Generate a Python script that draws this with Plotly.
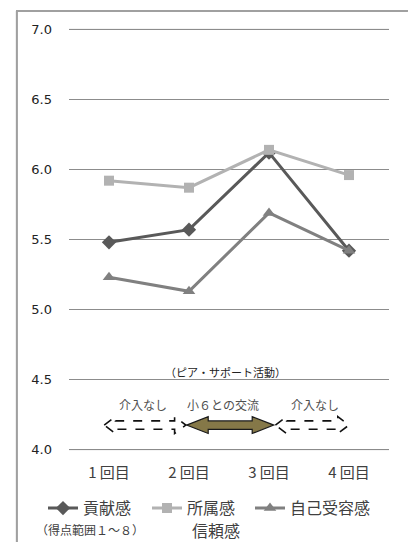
import plotly.graph_objects as go

categories = ["1 回目", "2 回目", "3 回目", "4 回目"]
koken = [5.48, 5.57, 6.12, 5.42]
shozoku = [5.92, 5.87, 6.14, 5.96]
jiko = [5.23, 5.13, 5.69, 5.42]
y_ticks = [4.0, 4.5, 5.0, 5.5, 6.0, 6.5, 7.0]

FONT = "Noto Sans CJK JP"
xs = list(range(len(categories)))

fig = go.Figure()
fig.add_trace(go.Scatter(x=xs, y=koken, name="貢献感", mode="lines+markers", legend="legend",
                         line=dict(color="#595959", width=3),
                         marker=dict(symbol="diamond", size=11, color="#595959")))
fig.add_trace(go.Scatter(x=xs, y=shozoku, name="所属感", mode="lines+markers", legend="legend2",
                         line=dict(color="#b2b2b2", width=3),
                         marker=dict(symbol="square", size=10, color="#b2b2b2")))
fig.add_trace(go.Scatter(x=xs, y=jiko, name="自己受容感", mode="lines+markers", legend="legend3",
                         line=dict(color="#808080", width=3),
                         marker=dict(symbol="triangle-up", size=11, color="#808080")))

shapes = []
# outer frame (extends past right/bottom edge)
shapes.append(dict(type="line", xref="paper", yref="paper", x0=-0.163, x1=1.059, y0=1.04, y1=1.04,
                   line=dict(color="#a0a0a0", width=2)))
shapes.append(dict(type="line", xref="paper", yref="paper", x0=-0.163, x1=-0.163, y0=-0.3, y1=1.04,
                   line=dict(color="#a0a0a0", width=2)))
# horizontal gridlines at range ends
for v in (4.0, 7.0):
    shapes.append(dict(type="line", xref="paper", yref="y", x0=0, x1=1, y0=v, y1=v,
                       line=dict(color="#8c8c8c", width=1)))

ya = 4.175
h1 = 0.03   # shaft half-height (data units)
h2 = 0.06   # head half-height
# solid olive double arrow
x0, x1 = 0.97, 2.06
hl = 0.27
shapes.append(dict(type="path", xref="x", yref="y",
                   path=(f"M {x0},{ya} L {x0+hl},{ya+h2} L {x0+hl},{ya+h1} L {x1-hl},{ya+h1} "
                         f"L {x1-hl},{ya+h2} L {x1},{ya} L {x1-hl},{ya-h2} L {x1-hl},{ya-h1} "
                         f"L {x0+hl},{ya-h1} L {x0+hl},{ya-h2} Z"),
                   fillcolor="#857848", line=dict(color="#1a1a1a", width=1.2)))
# dashed arrows
for (a, b) in [(-0.06, 0.96), (2.08, 3.0)]:
    hl2 = 0.14
    shapes.append(dict(type="path", xref="x", yref="y",
                       path=(f"M {a},{ya} L {a+hl2},{ya+h2} L {a+hl2},{ya+h1} L {b-hl2},{ya+h1} "
                             f"L {b-hl2},{ya+h2} L {b},{ya} L {b-hl2},{ya-h2} L {b-hl2},{ya-h1} "
                             f"L {a+hl2},{ya-h1} L {a+hl2},{ya-h2} Z"),
                       fillcolor="rgba(0,0,0,0)",
                       line=dict(color="#111111", width=1.6, dash="dash")))

annotations = [
    # frame box drawn as an annotation border (top/left edges visible)
    dict(x=(16 - 69) / 320, y=(451 - 10) / 423, xref="paper", yref="paper", text="",
         showarrow=False, xanchor="left", yanchor="top", width=420, height=560,
         bordercolor="#a0a0a0", borderwidth=1.5, borderpad=0),
    dict(x=1.46, y=4.555, xref="x", yref="y", text="（ピア・サポート活動）", showarrow=False,
         font=dict(size=11, color="#222222", family=FONT)),
    dict(x=0.43, y=4.32, xref="x", yref="y", text="介入なし", showarrow=False,
         font=dict(size=12, color="#505050", family=FONT)),
    dict(x=1.43, y=4.32, xref="x", yref="y", text="小６との交流", showarrow=False,
         font=dict(size=12, color="#505050", family=FONT)),
    dict(x=2.57, y=4.32, xref="x", yref="y", text="介入なし", showarrow=False,
         font=dict(size=12, color="#505050", family=FONT)),
    dict(x=(90 - 69) / 320, y=-0.186, xref="paper", yref="paper", text="（得点範囲１～８）", showarrow=False,
         font=dict(size=12, color="#404040", family=FONT), xanchor="center", yanchor="middle"),
    dict(x=(216 - 69) / 320, y=-0.186, xref="paper", yref="paper", text="信頼感", showarrow=False,
         font=dict(size=16, color="#404040", family=FONT), xanchor="center", yanchor="middle"),
]

leg_common = dict(orientation="h", y=-0.095, xanchor="left", yanchor="top",
                  font=dict(size=16, color="#404040", family=FONT),
                  itemwidth=30, bgcolor="rgba(0,0,0,0)")

fig.update_layout(
    width=408, height=542,
    margin=dict(l=69, r=19, t=28, b=91),
    paper_bgcolor="white", plot_bgcolor="white",
    showlegend=True,
    legend=dict(x=(43 - 69) / 320, **leg_common),
    legend2=dict(x=(147 - 69) / 320, **leg_common),
    legend3=dict(x=(250 - 69) / 320, **leg_common),
    xaxis=dict(range=[-0.5, 3.5], tickmode="array", tickvals=xs, ticktext=categories,
               showgrid=False, zeroline=False, showline=False, ticks="",
               ticklabelstandoff=11,
               tickfont=dict(size=15, color="#404040", family=FONT)),
    yaxis=dict(range=[3.99, 7.01], tickvals=y_ticks, ticktext=[f"{v:.1f}" for v in y_ticks],
               showgrid=True, gridcolor="#8c8c8c", gridwidth=1, zeroline=False,
               showline=False, ticks="", ticklabelstandoff=16,
               tickfont=dict(size=13, color="#222222", family="DejaVu Sans")),
    shapes=shapes,
    annotations=annotations,
)

fig.write_html("out.html")
